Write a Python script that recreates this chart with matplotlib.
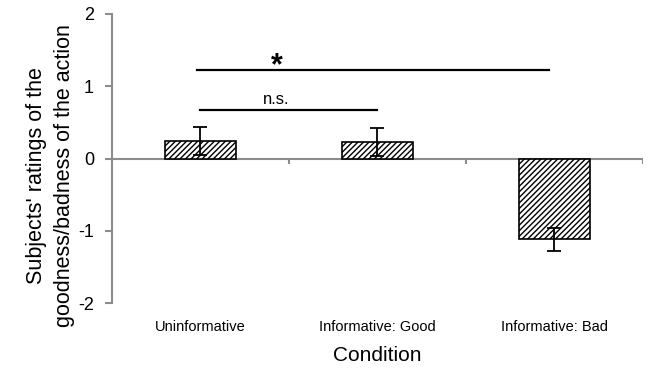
import numpy as np
import matplotlib.pyplot as plt

conditions = ["Uninformative", "Informative: Good", "Informative: Bad"]
ratings = [0.24, 0.23, -1.12]
errors = [0.19, 0.19, 0.16]

# significance lines: start x, end x, height, label
sig_start = [0.0, -0.02]
sig_end = [1.0, 1.97]
sig_height = [0.67, 1.22]
sig_label = ["n.s.", "*"]

plt.rcParams["font.family"] = ["Liberation Sans", "DejaVu Sans"]
plt.rcParams["hatch.linewidth"] = 1.0

fig = plt.figure(figsize=(6.49, 3.77), dpi=100)
ax = fig.add_axes([0.1726, 0.196, 0.818, 0.767])

x = np.arange(len(conditions))
ax.bar(x, ratings, width=0.4, color="white", edgecolor="black",
       hatch="//////", linewidth=1.2, zorder=2)
ax.errorbar(x, ratings, yerr=errors, fmt="none", ecolor="black",
            elinewidth=1.3, capsize=5, capthick=1.3, zorder=3)

# zero line with category boundary ticks
grey = "#8c8c8c"
ax.axhline(0, color=grey, linewidth=1.5, zorder=1)
bounds = np.arange(len(conditions) + 1) - 0.5
ax.vlines(bounds[1:], -0.07, 0, color=grey, linewidth=1.5, zorder=1)

for x0, x1, h, lab in zip(sig_start, sig_end, sig_height, sig_label):
    ax.plot([x0, x1], [h, h], color="black", linewidth=1.6)
    if lab == "*":
        ax.text(0.43, h - 0.05, lab, ha="center", va="baseline",
                fontsize=22, fontweight="bold")
    else:
        ax.text(0.43, h + 0.09, lab, ha="center", va="baseline", fontsize=12)

ax.set_xlim(-0.5, 2.5)
ax.set_ylim(-2, 2)
ax.set_yticks([-2, -1, 0, 1, 2])
ax.set_yticklabels(["-2", "-1", "0", "1", "2"], fontsize=13)
ax.set_xticks(x)
ax.set_xticklabels(conditions, fontsize=10.5)
ax.tick_params(axis="x", length=0, pad=12)
ax.tick_params(axis="y", length=5, width=1.5, color=grey, pad=8)

for s in ["top", "right", "bottom"]:
    ax.spines[s].set_visible(False)
ax.spines["left"].set_color(grey)
ax.spines["left"].set_linewidth(1.5)

ax.set_xlabel("Condition", fontsize=15, labelpad=9)
ax.set_ylabel("Subjects' ratings of the\ngoodness/badness of the action",
              fontsize=15.5, linespacing=1.45)
ax.yaxis.set_label_coords(-0.07, 0.44)

fig.savefig("out.png", dpi=100)
